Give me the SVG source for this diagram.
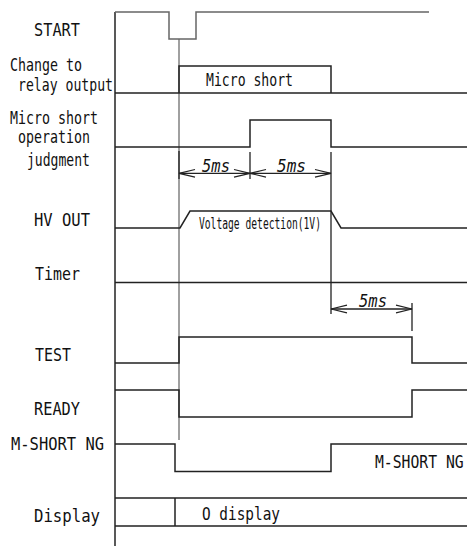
<svg xmlns="http://www.w3.org/2000/svg" width="473" height="546" viewBox="0 0 473 546">
<style>
.sig{fill:none;stroke:#222;stroke-width:1.5}
.gray{fill:none;stroke:#808080;stroke-width:1.5}
.dim{fill:none;stroke:#222;stroke-width:1.3}
text{font-family:"DejaVu Sans Mono","Liberation Mono",monospace;fill:#111;font-size:18px}
.sm{font-size:15px}
.it{font-style:italic;font-size:17px}
</style>
<defs>
<marker id="arr" viewBox="-17 -5 18 10" refX="0" refY="0" markerWidth="18" markerHeight="10" markerUnits="userSpaceOnUse" orient="auto-start-reverse">
<path d="M-16,-3.8 L0,0 L-16,3.8" fill="none" stroke="#222" stroke-width="1.2"/>
</marker>
</defs>
<rect width="473" height="546" fill="#fff"/>
<g id="axis"><path class="sig" d="M115,12 V546"/><path class="gray" d="M179,39 V440"/></g>
<g id="start"><path class="gray" d="M115,12 H169 V39 H196 V12 H429" style="stroke:#666"/><text x="34" y="36" textLength="46" lengthAdjust="spacingAndGlyphs">START</text></g>
<g id="relay"><path class="sig" d="M115,93 H467 M179,93 V66 H331 V93"/>
<text x="10" y="71" textLength="72" lengthAdjust="spacingAndGlyphs">Change to</text>
<text x="18" y="90.5" textLength="95" lengthAdjust="spacingAndGlyphs">relay output</text>
<text x="206" y="86" textLength="87" lengthAdjust="spacingAndGlyphs">Micro short</text></g>
<g id="judgment"><path class="sig" d="M115,147 H250 V120 H331 V147 H467"/>
<text x="10" y="124" textLength="88" lengthAdjust="spacingAndGlyphs">Micro short</text>
<text x="18" y="143" textLength="72" lengthAdjust="spacingAndGlyphs">operation</text>
<text x="27" y="165.5" textLength="63" lengthAdjust="spacingAndGlyphs">judgment</text></g>
<g id="hvout"><path class="sig" d="M115,228 H180 L190,211 H331 L341,228 H467"/>
<text x="34" y="226" textLength="56" lengthAdjust="spacingAndGlyphs">HV OUT</text>
<text class="sm" x="199" y="229" textLength="122" lengthAdjust="spacingAndGlyphs">Voltage detection(1V)</text></g>
<g id="timer"><path class="sig" d="M115,282.5 H467"/>
<text x="35" y="280" textLength="45" lengthAdjust="spacingAndGlyphs">Timer</text></g>
<g id="test"><path class="sig" d="M115,363 H179 V337 H412 V363 H467"/>
<text x="35" y="361" textLength="36" lengthAdjust="spacingAndGlyphs">TEST</text></g>
<g id="ready"><path class="sig" d="M115,390 H179 V417 H412 V390 H467"/>
<text x="34" y="415" textLength="46" lengthAdjust="spacingAndGlyphs">READY</text></g>
<g id="mshort"><path class="sig" d="M115,444 H175 V471.5 H331 V444 H467"/>
<text x="11" y="450" textLength="93" lengthAdjust="spacingAndGlyphs">M-SHORT NG</text>
<text transform="translate(375,467.5) scale(0.82,1)" x="0" y="0">M-SHORT NG</text></g>
<g id="display"><path class="sig" d="M115,498 H467 M115,526 H467 M175,498 V526"/>
<text x="34" y="522" textLength="66" lengthAdjust="spacingAndGlyphs">Display</text>
<text x="202" y="520" textLength="78" lengthAdjust="spacingAndGlyphs">O display</text></g>
<g id="connectors">
<path class="dim" d="M179,151 V179 M250,152 V179 M331,152 V314 M412,303 V331"/>
<path class="dim" d="M179,173.3 H250" marker-start="url(#arr)" marker-end="url(#arr)"/>
<path class="dim" d="M250,173.3 H331" marker-start="url(#arr)" marker-end="url(#arr)"/>
<path class="dim" d="M331,309 H412" marker-start="url(#arr)" marker-end="url(#arr)"/>
<text class="it" x="202" y="171.5" textLength="28" lengthAdjust="spacingAndGlyphs">5ms</text>
<text class="it" x="277" y="171.5" textLength="29" lengthAdjust="spacingAndGlyphs">5ms</text>
<text class="it" x="359" y="306.5" textLength="28" lengthAdjust="spacingAndGlyphs">5ms</text>
</g>
</svg>
